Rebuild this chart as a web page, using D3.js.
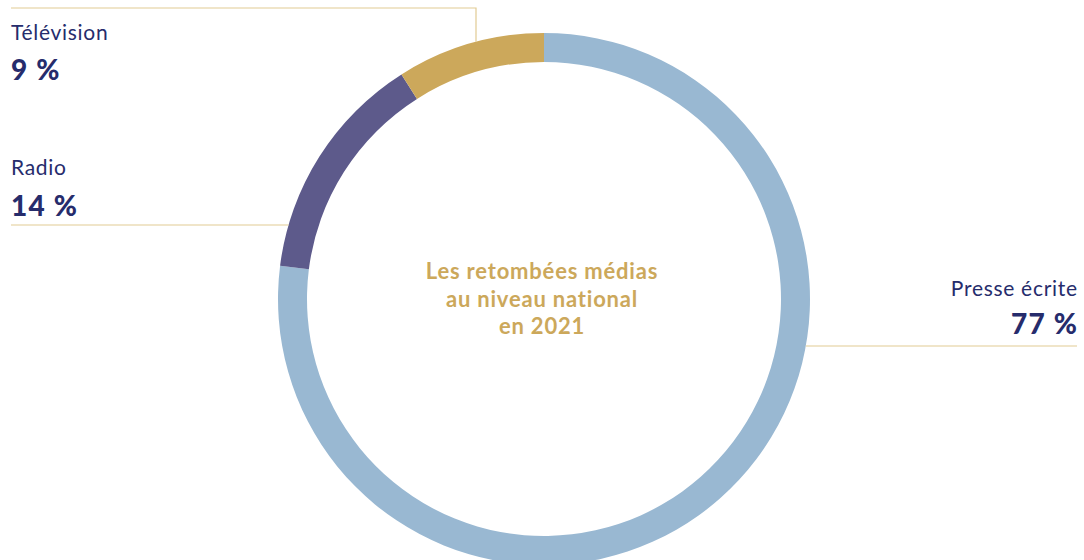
<!DOCTYPE html>
<head>
    <meta charset="utf-8">
    <script src="https://cdnjs.cloudflare.com/ajax/libs/d3/7.9.0/d3.js"></script>
    <style>
        body { margin: 0; background: #fff; }
        svg text { font-family: Lato, "Open Sans", sans-serif; }
    </style>
</head>
<body>
    <div id="chart"></div>
</body>
<script>

// data
const categories = ["Presse écrite", "Radio", "Télévision"]
const values = [77, 14, 9]
const valueLabels = ["77 %", "14 %", "9 %"]
const colors = ["#99b8d2", "#5d5a8b", "#cca85b"]
const title = ["Les retombées médias", "au niveau national", "en 2021"]

const width = 1084
const height = 560
const cx = 544, cy = 299
const outer = 266, inner = 237

const svg = d3.select("#chart")
    .append("svg")
    .attr("width", width)
    .attr("height", height)

const g = svg.append("g")
    .attr("transform", `translate(${cx},${cy})`)

const pie = d3.pie().sort(null).value(d => d.value)
const arc = d3.arc().innerRadius(inner).outerRadius(outer)

const slices = pie(categories.map((c, i) => ({name: c, value: values[i], label: valueLabels[i], color: colors[i]})))

g.selectAll("path")
    .data(slices)
    .join("path")
    .attr("d", arc)
    .attr("fill", d => d.data.color)

// centre title
svg.append("text")
    .attr("text-anchor", "middle")
    .attr("fill", "#cca85b")
    .attr("font-size", 22)
    .attr("font-weight", 700)
    .attr("letter-spacing", 0.8)
    .selectAll("tspan")
    .data(title)
    .join("tspan")
    .attr("x", cx - 2)
    .attr("y", (d, i) => 279 + i * 27.5)
    .text(d => d)

// labels and leader lines
const lineColor = "#e2cb93"
const navy = "#262c6c"

// point on the outer edge of the ring
const edgeX = (y, side) => cx + side * Math.sqrt(outer * outer - (y - cy) * (y - cy))
const edgeY = (x) => cy - Math.sqrt(outer * outer - (x - cx) * (x - cx))

// Télévision: horizontal line at top then down to the ring
const tvX = 476, tvY = 8
svg.append("path")
    .attr("d", `M11,${tvY}H${tvX}V${edgeY(tvX)}`)
    .attr("fill", "none")
    .attr("stroke", lineColor)
    .attr("stroke-width", 1.2)

// Radio
const radioY = 225
svg.append("line")
    .attr("x1", 11).attr("x2", edgeX(radioY, -1))
    .attr("y1", radioY).attr("y2", radioY)
    .attr("stroke", lineColor)
    .attr("stroke-width", 1.2)

// Presse écrite
const presseY = 346
svg.append("line")
    .attr("x1", edgeX(presseY, 1)).attr("x2", 1077)
    .attr("y1", presseY).attr("y2", presseY)
    .attr("stroke", lineColor)
    .attr("stroke-width", 1.2)

const labelPos = [
    {x: 1077, anchor: "end", y1: 296, y2: 334},
    {x: 11, anchor: "start", y1: 175, y2: 216},
    {x: 11, anchor: "start", y1: 40, y2: 80}
]

slices.forEach((s, i) => {
    const p = labelPos[i]
    const endShift = p.anchor === "end" ? 1 : 0
    svg.append("text")
        .attr("x", p.x + endShift * 0.7).attr("y", p.y1)
        .attr("text-anchor", p.anchor)
        .attr("fill", navy)
        .attr("font-size", 21)
        .attr("letter-spacing", 0.7)
        .text(s.data.name)
    svg.append("text")
        .attr("x", p.x + endShift * 1.2).attr("y", p.y2)
        .attr("text-anchor", p.anchor)
        .attr("fill", navy)
        .attr("font-size", 28)
        .attr("font-weight", 900)
        .attr("letter-spacing", 1.2)
        .text(s.data.label)
})

</script>
